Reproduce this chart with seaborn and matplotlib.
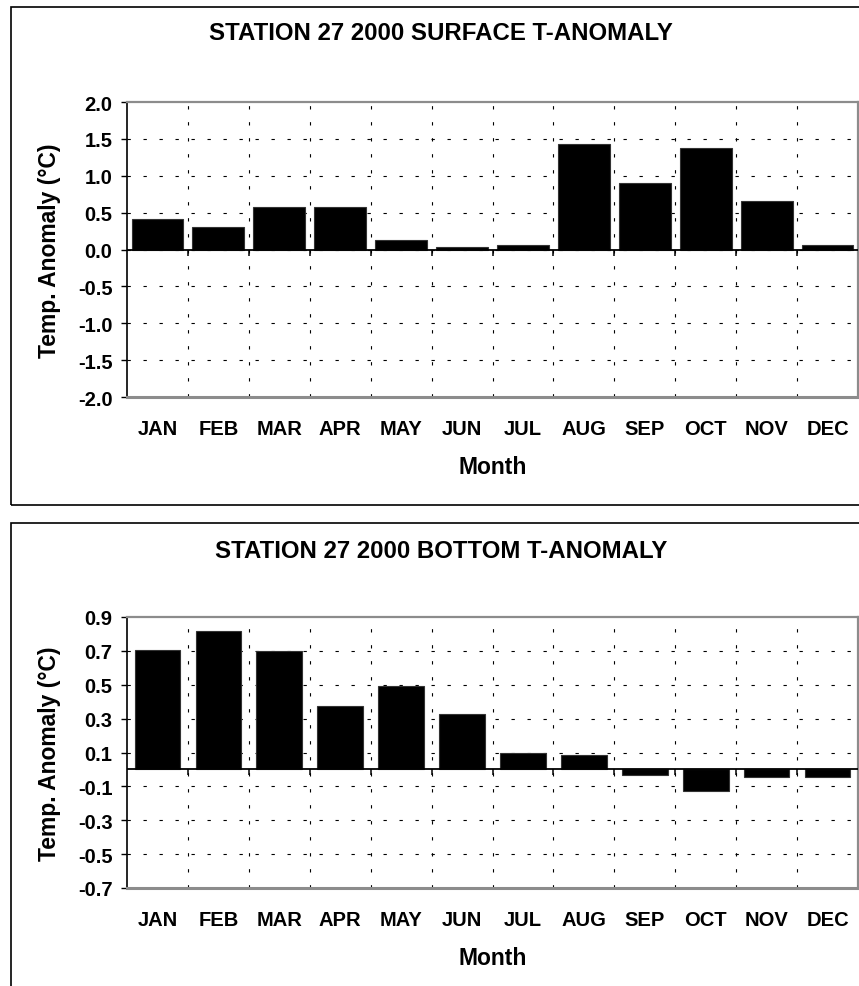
import numpy as np
import pandas as pd
import matplotlib
matplotlib.use("Agg")
import matplotlib.pyplot as plt
from matplotlib.patches import Rectangle
import seaborn as sns

months = ["JAN", "FEB", "MAR", "APR", "MAY", "JUN",
          "JUL", "AUG", "SEP", "OCT", "NOV", "DEC"]
surface_anom = [0.42, 0.30, 0.58, 0.58, 0.13, 0.03,
                0.06, 1.43, 0.90, 1.38, 0.66, 0.06]
bottom_anom = [0.705, 0.82, 0.70, 0.375, 0.495, 0.33,
               0.095, 0.085, -0.03, -0.125, -0.045, -0.045]
surface_ticks = [-2.0, -1.5, -1.0, -0.5, 0.0, 0.5, 1.0, 1.5, 2.0]
bottom_ticks = [-0.7, -0.5, -0.3, -0.1, 0.1, 0.3, 0.5, 0.7, 0.9]
titles = ["STATION 27 2000 SURFACE T-ANOMALY", "STATION 27 2000 BOTTOM T-ANOMALY"]

sns.set_style("white")
plt.rcParams["font.family"] = ["Liberation Sans", "DejaVu Sans"]
plt.rcParams["font.weight"] = "bold"
plt.rcParams["text.color"] = "black"
plt.rcParams["axes.labelcolor"] = "black"
plt.rcParams["xtick.color"] = "black"
plt.rcParams["ytick.color"] = "black"

W, H = 859, 987
fig = plt.figure(figsize=(W / 100, H / 100), dpi=100)
fig.patch.set_facecolor("white")


def fx(px):
    return px / W


def fy(py):
    return 1 - py / H


# outer chart frames
fig.patches.append(Rectangle((fx(11), fy(506)), fx(900), 498 / H, transform=fig.transFigure,
                             fill=False, ec="black", lw=1.2, zorder=0))
fig.patches.append(Rectangle((fx(11), fy(1010)), fx(900), (1010 - 524) / H, transform=fig.transFigure,
                             fill=False, ec="black", lw=1.2, zorder=0))

panels = [
    dict(vals=surface_anom, ticks=surface_ticks, fmt="{:.1f}", width=0.85,
         box=(127, 103, 858, 398), title_y=34, title=titles[0]),
    dict(vals=bottom_anom, ticks=bottom_ticks, fmt="{:.1f}", width=0.75,
         box=(127, 618, 858, 889), title_y=552, title=titles[1]),
]

dash = (0, (3.0, 11.4))

for p in panels:
    x0, y0, x1, y1 = p["box"]
    ax = fig.add_axes([fx(x0), fy(y1), (x1 - x0) / W, (y1 - y0) / H])
    df = pd.DataFrame({"Month": months, "Anomaly": p["vals"]})
    sns.barplot(data=df, x="Month", y="Anomaly", color="black", saturation=1,
                width=p["width"], edgecolor="#333333", linewidth=0.8, ax=ax, zorder=3)
    lo, hi = p["ticks"][0], p["ticks"][-1]
    ax.set_ylim(lo, hi)
    ax.set_xlim(-0.5, 11.5)
    ax.set_yticks(p["ticks"])
    ax.set_yticklabels([p["fmt"].format(t) for t in p["ticks"]], fontsize=14.5, fontweight="bold")
    ax.set_xticks(range(12))
    ax.set_xticklabels(months, fontsize=14.5, fontweight="bold")
    ax.set_xticks(np.arange(0.5, 11.0, 1.0), minor=True)
    ax.tick_params(axis="x", which="both", length=0, pad=16)
    ax.tick_params(axis="y", which="major", length=4.5, width=1, color="black",
                   direction="out", pad=6, left=True)

    # dashed grid
    ax.grid(False)
    for t in p["ticks"][1:-1]:
        ax.axhline(t, color="black", lw=0.8, ls=dash, zorder=1)
    for b in np.arange(0.5, 11.0, 1.0):
        ax.axvline(b, color="black", lw=0.8, ls=dash, zorder=1)

    # zero line with category separators
    ax.axhline(0, color="black", lw=1.3, zorder=4)
    h_px = (y1 - y0)
    d = 6 / h_px * (hi - lo)
    ax.vlines(np.arange(0.5, 11.0, 1.0), -d, 0, color="black", lw=1.1, zorder=4)

    for side in ["top", "right"]:
        ax.spines[side].set_visible(True)
        ax.spines[side].set_color("#8c8c8c")
        ax.spines[side].set_linewidth(1.6)
    ax.spines["bottom"].set_color("#8c8c8c")
    ax.spines["bottom"].set_linewidth(2.2)
    ax.spines["left"].set_color("black")
    ax.spines["left"].set_linewidth(1.2)

    ax.set_xlabel("Month", fontsize=16.5, fontweight="bold", labelpad=12)
    ax.set_ylabel("Temp. Anomaly (\u00b0C)", fontsize=16.5, fontweight="bold", labelpad=12)

    fig.text(fx(441), fy(p["title_y"]), p["title"], ha="center", va="center",
             fontsize=17.3, fontweight="bold")

fig.savefig("out.png", dpi=100, facecolor="white")
